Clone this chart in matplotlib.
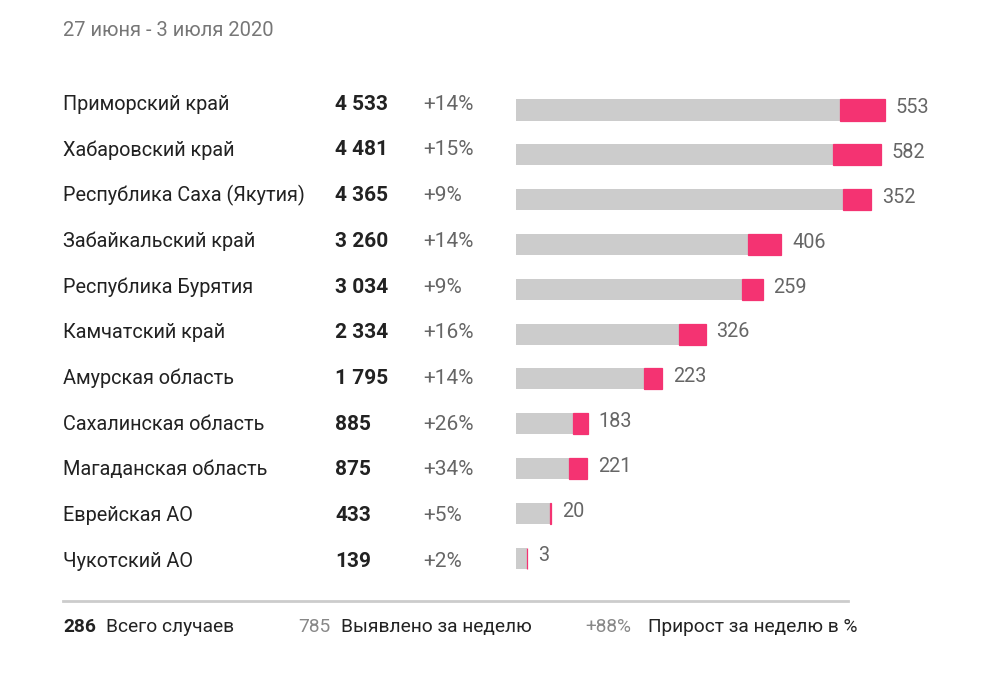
import numpy as np
import matplotlib.pyplot as plt
from matplotlib.transforms import blended_transform_factory

plt.rcParams['font.family'] = ['Roboto', 'DejaVu Sans']

# данные
regions = ['Приморский край', 'Хабаровский край', 'Республика Саха (Якутия)',
           'Забайкальский край', 'Республика Бурятия', 'Камчатский край',
           'Амурская область', 'Сахалинская область', 'Магаданская область',
           'Еврейская АО', 'Чукотский АО']
totals = [4533, 4481, 4365, 3260, 3034, 2334, 1795, 885, 875, 433, 139]
total_labels = ['4 533', '4 481', '4 365', '3 260', '3 034', '2 334', '1 795',
                '885', '875', '433', '139']
growth = ['+14%', '+15%', '+9%', '+14%', '+9%', '+16%', '+14%', '+26%', '+34%', '+5%', '+2%']
new_week = [553, 582, 352, 406, 259, 326, 223, 183, 221, 20, 3]
title = '27 июня - 3 июля 2020'

gray = '#cccccc'
pink = '#f43372'
dark = '#222222'
mid = '#666666'

fig = plt.figure(figsize=(10, 6.87), dpi=100)
ax = fig.add_axes([0.516, 0.155, 0.464, 0.7175])

totals = np.array(totals)
new_week = np.array(new_week)
old = totals - new_week
y = np.arange(len(regions))

ax.barh(y, old, height=0.47, color=gray)
ax.barh(y, new_week, left=old, height=0.47, color=pink, edgecolor=pink, linewidth=0.9)
for i in range(len(regions)):
    ax.text(totals[i] + 130, y[i] - 0.05, str(new_week[i]), va='center', ha='left',
            fontsize=14.3, color=mid)

ax.set_xlim(0, 5700)
ax.set_ylim(len(regions) - 0.5, -0.5)
ax.axis('off')

# колонки слева (строки текста идут чуть реже, чем полосы)
tr = blended_transform_factory(fig.transFigure, ax.transData)
ty = y * 1.02 - 0.13
for i in range(len(regions)):
    ax.text(0.063, ty[i], regions[i], transform=tr, va='center', ha='left',
            fontsize=14.3, color=dark)
    ax.text(0.335, ty[i], total_labels[i], transform=tr, va='center', ha='left',
            fontsize=15, color=dark, fontweight='bold')
    ax.text(0.423, ty[i], growth[i], transform=tr, va='center', ha='left',
            fontsize=15, color=mid)

fig.text(0.063, 1 - 30 / 687, title, va='center', ha='left', fontsize=14.5, color='#777777')

# подвал
fig.add_artist(plt.Line2D([0.063, 0.848], [1 - 601 / 687, 1 - 601 / 687],
                          color='#cccccc', linewidth=2))
fy = 1 - 627 / 687
fs = 13.8
fig.text(0.063, fy, '286', va='center', ha='left', fontsize=fs, color=dark, fontweight='bold')
fig.text(0.106, fy, 'Всего случаев', va='center', ha='left', fontsize=fs, color=dark)
fig.text(0.298, fy, '785', va='center', ha='left', fontsize=fs, color='#888888')
fig.text(0.341, fy, 'Выявлено за неделю', va='center', ha='left', fontsize=fs, color=dark)
fig.text(0.585, fy, '+88%', va='center', ha='left', fontsize=fs, color='#888888')
fig.text(0.648, fy, 'Прирост за неделю в %', va='center', ha='left', fontsize=fs, color=dark)

plt.savefig('out.png', dpi=100, facecolor='white')
